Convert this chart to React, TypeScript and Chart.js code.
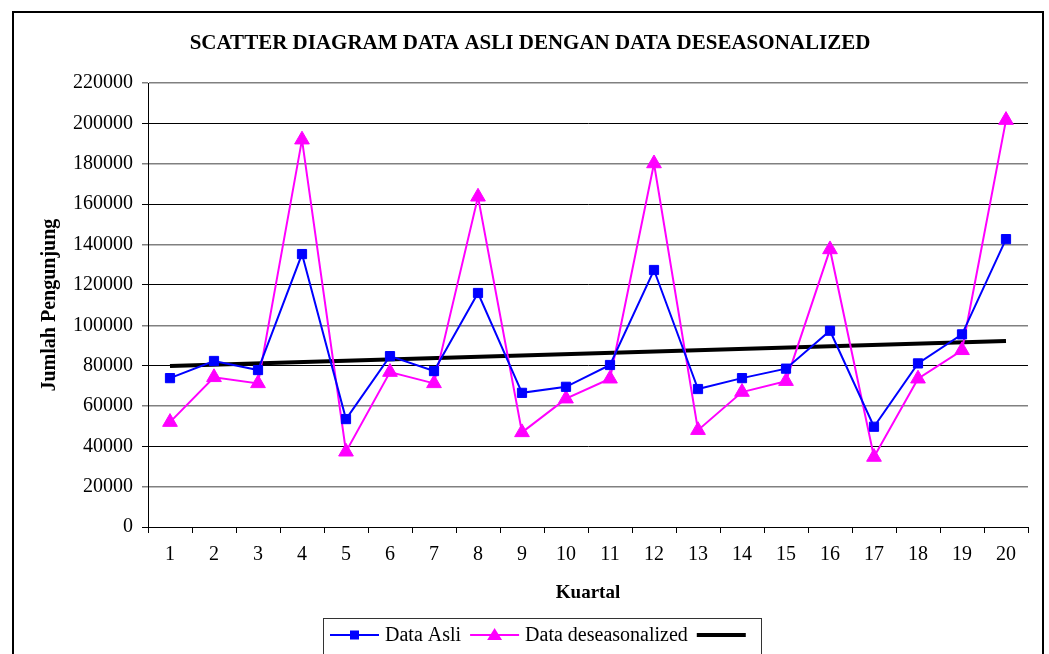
import React, { useEffect, useRef } from "react";
import { Chart, registerables } from "chart.js";

Chart.register(...registerables);

const TITLE = "SCATTER DIAGRAM DATA ASLI DENGAN DATA DESEASONALIZED";
const categories = ["1","2","3","4","5","6","7","8","9","10","11","12","13","14","15","16","17","18","19","20"];
const dataAsli = [73800, 82300, 77800, 135300, 53500, 84700, 77300, 116000, 66500, 69500, 80300, 127400, 68400, 73800, 78500, 97300, 49700, 81100, 95500, 142700];
const dataDeseasonalized = [52000, 74200, 71200, 192000, 37300, 76800, 71200, 163700, 46900, 63600, 73500, 180200, 48000, 66900, 72300, 137600, 34700, 73500, 87600, 201700];
const trendLine = [79800, null, null, null, null, null, null, null, null, null, null, null, null, null, null, null, null, null, null, 92200];
const legendLabels = ["Data Asli", "Data deseasonalized", ""];

const SERIF = "'Liberation Serif', 'Times New Roman', serif";

const framePlugin = {
  id: "frameAndLegend",
  afterDraw(chart: any) {
    const ctx = chart.ctx;
    ctx.save();
    // outer frame
    ctx.strokeStyle = "#000";
    ctx.lineWidth = 2;
    ctx.strokeRect(13, 12, 1030, 700);
    // legend
    const ly = 635;
    ctx.font = `20px ${SERIF}`;
    ctx.textBaseline = "middle";
    ctx.textAlign = "left";
    const left = 323.5;
    ctx.lineWidth = 1;
    ctx.strokeStyle = "#333";
    ctx.strokeRect(left, 618.5, 438, 60);
    let x = 330;
    const sym = 49;
    const ds = chart.data.datasets;
    for (let i = 0; i < ds.length; i++) {
      const d = ds[i];
      ctx.strokeStyle = d.borderColor;
      ctx.lineWidth = i === 2 ? 4 : 2;
      ctx.beginPath();
      ctx.moveTo(x, ly);
      ctx.lineTo(x + sym, ly);
      ctx.stroke();
      const cx = x + sym / 2;
      if (d.pointStyle === "rect") {
        ctx.fillStyle = d.pointBackgroundColor;
        ctx.fillRect(cx - 4.5, ly - 4.5, 9, 9);
      } else if (d.pointStyle === "triangle") {
        ctx.fillStyle = d.pointBackgroundColor;
        ctx.beginPath();
        ctx.moveTo(cx, ly - 7);
        ctx.lineTo(cx + 7.5, ly + 5);
        ctx.lineTo(cx - 7.5, ly + 5);
        ctx.closePath();
        ctx.fill();
      }
      x += sym + 6;
      const label = legendLabels[i];
      if (label) {
        ctx.fillStyle = "#000";
        ctx.fillText(label, x, ly + 1);
        x += ctx.measureText(label).width + 9;
      }
    }
    ctx.restore();
  },
};

export default function App() {
  const ref = useRef<HTMLCanvasElement>(null);
  useEffect(() => {
    const canvas = ref.current!;
    const chart = new Chart(canvas, {
      type: "line",
      data: {
        labels: categories,
        datasets: [
          {
            label: legendLabels[0],
            data: dataAsli,
            borderColor: "#0000FF",
            backgroundColor: "#0000FF",
            pointBackgroundColor: "#0000FF",
            pointBorderColor: "#0000FF",
            pointStyle: "rect",
            pointRadius: 6.5,
            pointBorderWidth: 1,
            borderWidth: 2,
            tension: 0,
          },
          {
            label: legendLabels[1],
            data: dataDeseasonalized,
            borderColor: "#FF00FF",
            backgroundColor: "#FF00FF",
            pointBackgroundColor: "#FF00FF",
            pointBorderColor: "#FF00FF",
            pointStyle: "triangle",
            pointRadius: 8.5,
            pointBorderWidth: 1,
            borderWidth: 2,
            tension: 0,
          },
          {
            label: legendLabels[2],
            data: trendLine,
            borderColor: "#000000",
            backgroundColor: "#000000",
            pointRadius: 0,
            borderWidth: 4,
            spanGaps: true,
            tension: 0,
          },
        ],
      },
      options: {
        animation: false,
        responsive: false,
        layout: { padding: { left: 32, right: 21, top: 31, bottom: 0 } },
        plugins: {
          legend: { display: false },
          tooltip: { enabled: false },
          title: {
            display: true,
            text: TITLE,
            color: "#000",
            font: { family: SERIF, size: 21, weight: "bold" },
            padding: { top: 0, bottom: 27 },
          },
        },
        scales: {
          x: {
            offset: true,
            grid: {
              offset: true,
              drawOnChartArea: false,
              drawTicks: true,
              tickLength: 6,
              color: "#000",
            },
            border: { display: true, color: "#000", width: 1 },
            ticks: {
              color: "#000",
              font: { family: SERIF, size: 20 },
              padding: 10,
              maxRotation: 0,
            },
            title: {
              display: true,
              text: "Kuartal",
              color: "#000",
              font: { family: SERIF, size: 19, weight: "bold" },
              padding: { top: 0, bottom: 50 },
            },
            afterFit: (scale: any) => {
              scale.height = 127;
            },
          },
          y: {
            min: 0,
            max: 220000,
            grid: {
              drawTicks: true,
              tickLength: 6,
              color: (c: any) => {
                const v = c.tick ? c.tick.value : 0;
                return (v / 20000) % 2 === 0 ? "#000" : "#808080";
              },
              lineWidth: (c: any) => {
                const v = c.tick ? c.tick.value : 0;
                return (v / 20000) % 2 === 0 ? 1 : 1.5;
              },
            },
            border: { display: true, color: "#000", width: 1 },
            ticks: {
              stepSize: 20000,
              color: "#000",
              font: { family: SERIF, size: 20 },
              padding: 9,
              callback: (v: any) => String(v),
            },
            title: {
              display: true,
              text: "Jumlah Pengunjung",
              color: "#000",
              font: { family: SERIF, size: 20, weight: "bold" },
              padding: { top: 6, bottom: 0 },
            },
            afterFit: (scale: any) => {
              scale.width = 116;
            },
          },
        },
      },
      plugins: [framePlugin],
    });
    return () => chart.destroy();
  }, []);
  return (
    <div style={{ position: "fixed", left: 0, top: 0, width: 1049, height: 654, background: "#fff" }}>
      <canvas ref={ref} width={1049} height={654} style={{ display: "block", width: 1049, height: 654 }} />
    </div>
  );
}
